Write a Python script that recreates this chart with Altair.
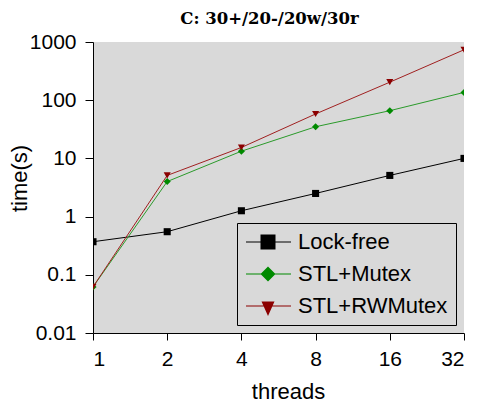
import altair as alt
import pandas as pd

threads = [1, 2, 4, 8, 16, 32]
series = ["Lock-free", "STL+Mutex", "STL+RWMutex"]
lock_free = [0.37, 0.55, 1.26, 2.5, 5.1, 10]
stl_mutex = [0.062, 4.0, 13.3, 35, 66, 136]
stl_rwmutex = [0.062, 5.1, 15.4, 58, 204, 735]
colors = ["#000000", "#008a00", "#8b0000"]
line_colors = ["#000000", "#2a9a2a", "#a02020"]
shapes = ["square", "diamond", "triangle-down"]
bar = "M-1,-0.06H3.5V0.06H-1Z"
legend_paths = [
    bar + "M0.45,-0.75H1.95V0.75H0.45Z",
    bar + "M1.2,-0.75L1.95,0L1.2,0.75L0.45,0Z",
    bar + "M0.55,-0.45L1.85,-0.45L1.2,1.0Z",
]
y_ticks = [0.01, 0.1, 1, 10, 100, 1000]

rows = []
for name, vals in zip(series, [lock_free, stl_mutex, stl_rwmutex]):
    for t, v in zip(threads, vals):
        rows.append({"threads": t, "time": v, "series": name})
df = pd.DataFrame(rows)
leg_df = pd.DataFrame({"threads": [1, 1, 1], "time": [1e-6] * 3, "series": series})

font = "Liberation Sans"
x = alt.X("threads:Q", scale=alt.Scale(type="log", base=2, domain=[1, 32], nice=False),
          axis=alt.Axis(values=threads, format="d", title="threads", titleX=195))
y = alt.Y("time:Q", scale=alt.Scale(type="log", domain=[0.01, 1000], nice=False),
          axis=alt.Axis(values=y_ticks, format="~g", title="time(s)", titleX=-62, titleY=136))

lines = alt.Chart(df).mark_line(strokeWidth=1, clip=True).encode(
    x=x, y=y,
    color=alt.Color("series:N", scale=alt.Scale(domain=series, range=line_colors), legend=None),
    detail="series:N",
)
points = alt.Chart(df).mark_point(filled=True, opacity=1, size=50, clip=True).encode(
    x=x, y=y,
    fill=alt.Fill("series:N", scale=alt.Scale(domain=series, range=colors), legend=None),
    shape=alt.Shape("series:N", scale=alt.Scale(domain=series, range=shapes), legend=None),
)
legend_layer = alt.Chart(leg_df).mark_point(filled=True, opacity=1, clip=True, strokeWidth=0).encode(
    x=x, y=y,
    fill=alt.Fill("series:N", scale=alt.Scale(domain=series, range=colors),
                  legend=alt.Legend(title=None)),
    shape=alt.Shape("series:N", scale=alt.Scale(domain=series, range=legend_paths),
                    legend=alt.Legend(title=None)),
)

chart = alt.layer(lines, points, legend_layer).resolve_scale(
    shape="independent", fill="independent", color="independent"
).properties(
    width=371, height=291,
    autosize=alt.AutoSizeParams(type="none"),
    padding={"left": 85, "top": 34, "right": 7, "bottom": 70},
    title=alt.Title("C: 30+/20-/20w/30r", font="DejaVu Serif", fontSize=16.5,
                    fontWeight="bold", anchor="middle", dx=-9, offset=4, color="#000"),
).configure_view(fill="#d9d9d9", stroke=None).configure_axis(
    labelFont=font, titleFont=font, labelFontSize=21, titleFontSize=22,
    labelColor="#000", titleColor="#000", domainColor="#000", tickColor="#000",
    grid=False, titleFontWeight="normal", domainWidth=1, tickWidth=1,
).configure_axisY(labelPadding=9, tickSize=8).configure_axisX(
    labelPadding=8, titlePadding=12, tickSize=7
).configure_legend(
    orient="none", legendX=144, legendY=181, fillColor="#d9d9d9", strokeColor="#000",
    padding=8, labelFont=font, labelFontSize=22, labelColor="#000", symbolSize=400,
    labelOffset=31, rowPadding=10, symbolStrokeWidth=0,
)
chart.save("out.html", embed_options={"renderer": "svg", "actions": False})
